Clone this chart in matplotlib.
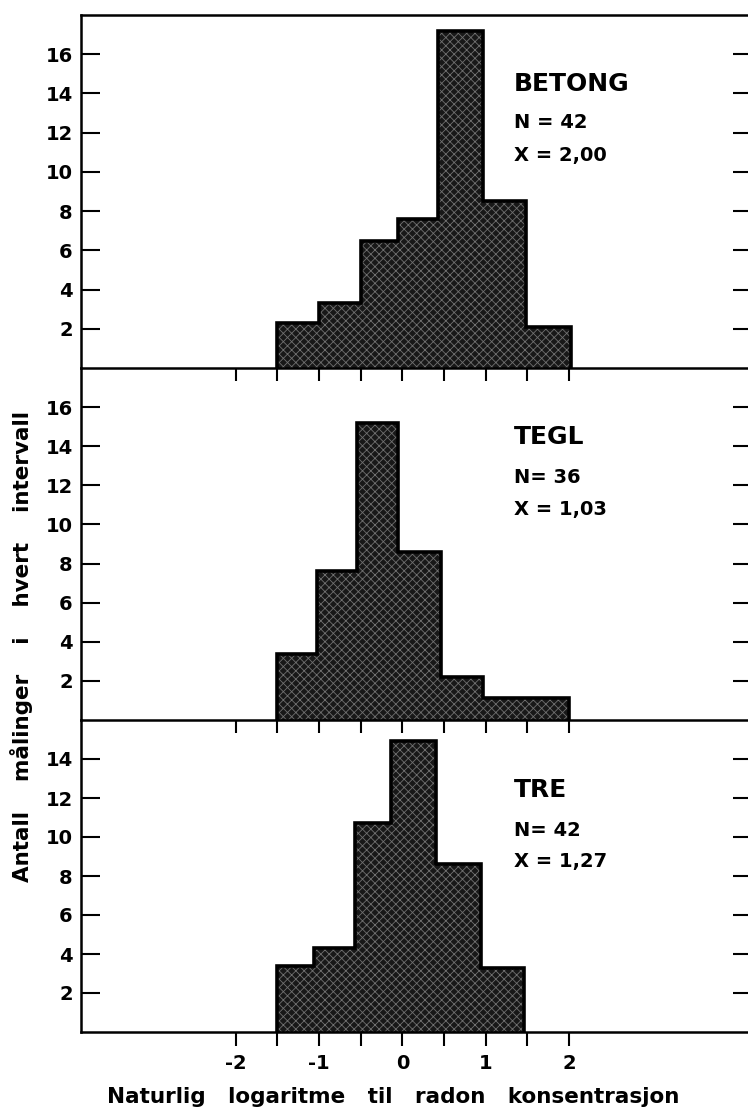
import matplotlib
matplotlib.use('Agg')
import matplotlib.pyplot as plt

plt.rcParams['font.family'] = ['Liberation Sans Narrow', 'DejaVu Sans']
plt.rcParams['font.weight'] = 'bold'
plt.rcParams['axes.unicode_minus'] = False
plt.rcParams['hatch.linewidth'] = 0.6

# Histogrammer: kanter og høyder lest av figuren
betong_edges = [-1.5, -1.0, -0.5, -0.05, 0.43, 0.97, 1.49, 2.02]
betong_counts = [2.3, 3.3, 6.5, 7.6, 17.2, 8.5, 2.1]

tegl_edges = [-1.5, -1.03, -0.55, -0.05, 0.47, 0.97, 2.0]
tegl_counts = [3.4, 7.6, 15.2, 8.6, 2.2, 1.1]

tre_edges = [-1.51, -1.06, -0.57, -0.14, 0.40, 0.94, 1.46]
tre_counts = [3.4, 4.3, 10.7, 14.9, 8.6, 3.3]

names = ['BETONG', 'TEGL', 'TRE']
n_text = ['N = 42', 'N= 36', 'N= 42']
x_text = ['X = 2,00', 'X = 1,03', 'X = 1,27']
ymax = [18, 18, 16]
yticks = [[2, 4, 6, 8, 10, 12, 14, 16], [2, 4, 6, 8, 10, 12, 14, 16], [2, 4, 6, 8, 10, 12, 14]]
xticks_major = [-2, -1, 0, 1, 2]
xticks_all = [-2, -1.5, -1, -0.5, 0, 0.5, 1, 1.5, 2]

W, H = 748, 1113
fig = plt.figure(figsize=(W / 100, H / 100), dpi=100)

left = 81 / W
width = (752 - 81) / W
panels = [(15, 368), (368, 720), (720, 1032)]
data = [(betong_edges, betong_counts), (tegl_edges, tegl_counts), (tre_edges, tre_counts)]
label_y = [(84, 123, 155), (437, 478, 510), (790, 831, 862)]

for i, (top, bot) in enumerate(panels):
    ax = fig.add_axes([left, (H - bot) / H, width, (bot - top) / H])
    ax.patch.set_alpha(0)
    edges, counts = data[i]
    ax.stairs(counts, edges, baseline=0, fill=True, facecolor='#181818',
              edgecolor='#181818', lw=0)
    ax.stairs(counts, edges, baseline=0, fill=True, facecolor='none',
              edgecolor='#707070', hatch='xxxx', lw=0)
    ax.stairs(counts, edges, baseline=0, color='black', lw=2.6)

    ax.set_xlim(-3.86, 4.2)
    ax.set_ylim(0, ymax[i])
    for s in ax.spines.values():
        s.set_linewidth(1.8)
    if i > 0:
        ax.spines['top'].set_visible(False)

    ax.set_yticks(yticks[i])
    ax.tick_params(axis='y', direction='in', length=14, width=1.5, right=True,
                   labelsize=14, pad=6)

    if i < 2:
        ax.set_xticks(xticks_all)
        ax.tick_params(axis='x', direction='out', length=9, width=1.5, labelbottom=False)
    else:
        ax.set_xticks(xticks_major)
        ax.set_xticks(xticks_all, minor=True)
        ax.tick_params(axis='x', which='both', direction='out', length=10, width=1.5,
                       labelsize=14, pad=6)

    for yy, txt, fs in zip(label_y[i], [names[i], n_text[i], x_text[i]], [18, 14, 14]):
        fig.text(514 / W, 1 - yy / H, txt, fontsize=fs, fontweight='bold',
                 ha='left', va='center')

fig.text(393 / W, 1 - 1097 / H, 'Naturlig   logaritme   til   radon   konsentrasjon',
         fontsize=15.5, fontweight='bold', ha='center', va='center')
fig.text(22 / W, 1 - 646 / H, 'Antall    målinger    i    hvert    intervall',
         fontsize=15.5, fontweight='bold', ha='center', va='center', rotation=90)

fig.savefig('out.png', dpi=100)
